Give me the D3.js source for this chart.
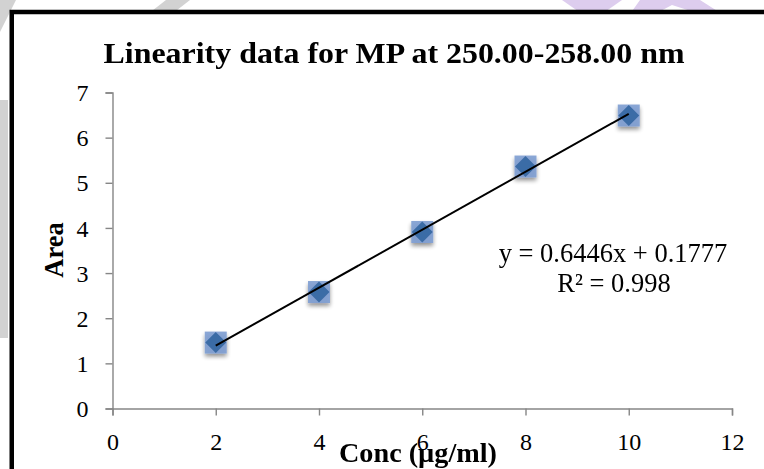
<!DOCTYPE html>
<html><head><meta charset="utf-8">
<script src="https://cdn.jsdelivr.net/npm/d3@7"></script>
<style>html,body{margin:0;padding:0;background:#fff;overflow:hidden}</style>
</head><body>
<svg id="c" width="764" height="469"></svg>
<script>
const concs = [2, 4, 6, 8, 10];
const areas = [1.46, 2.58, 3.91, 5.36, 6.49];
const xTicks = [0, 2, 4, 6, 8, 10, 12];
const yTicks = [0, 1, 2, 3, 4, 5, 6, 7];
const title = "Linearity data for MP at 250.00-258.00 nm";
const xLabel = "Conc (µg/ml)";
const yLabel = "Area";
const eqLine1 = "y = 0.6446x + 0.1777";
const eqLine2 = "R² = 0.998";

const svg = d3.select("#c");
const serif = "'Liberation Serif','Times New Roman',serif";

// faint watermark shapes outside the chart frame
const wm = svg.append("g");
wm.append("polygon").attr("points","0,0 16,0 0,32").attr("fill","#d2d2d2");
wm.append("polygon").attr("points","148,14 166,0 190,0 172,14").attr("fill","#d2d2d2");
wm.append("rect").attr("x",0).attr("y",100).attr("width",8).attr("height",238).attr("fill","#d2d2d2");
wm.append("polygon").attr("points","562,0 622,0 602,14 582,14").attr("fill","#ddcdee");
wm.append("polygon").attr("points","640,0 700,0 722,14 700,14 672,5 655,14 630,14").attr("fill","#ddcdee");

// frame
svg.append("rect").attr("x",11.75).attr("y",12).attr("width",800).attr("height",500)
  .attr("fill","#fff").attr("stroke","#000").attr("stroke-width",4.5);

const x = d3.scaleLinear().domain([0,12]).range([112.5,732]);
const y = d3.scaleLinear().domain([0,7]).range([408.5,92.5]);

const defs = svg.append("defs");
const f = defs.append("filter").attr("id","sh").attr("x","-50%").attr("y","-50%").attr("width","200%").attr("height","200%");
f.append("feGaussianBlur").attr("in","SourceAlpha").attr("stdDeviation",2);
f.append("feOffset").attr("dx",0).attr("dy",3).attr("result","b");
f.append("feComponentTransfer").append("feFuncA").attr("type","linear").attr("slope",0.45);
const m = f.append("feMerge"); m.append("feMergeNode"); m.append("feMergeNode").attr("in","SourceGraphic");

// axes
const xa = svg.append("g").attr("transform",`translate(0,${y(0)})`)
  .call(d3.axisBottom(x).tickValues(xTicks).tickSize(7).tickSizeOuter(7).tickFormat(d3.format("d")));
const ya = svg.append("g").attr("transform",`translate(${x(0)},0)`)
  .call(d3.axisLeft(y).tickValues(yTicks).tickSize(7).tickSizeOuter(7).tickFormat(d3.format("d")));
[xa,ya].forEach(a=>{
  a.selectAll("path,line").attr("stroke","#868686").attr("stroke-width",1.4);
  a.selectAll("text").attr("fill","#000").style("font-family",serif).style("font-size","24px");
});
xa.selectAll("text").attr("dy",0).attr("y",41);
ya.selectAll("text").attr("x",-24).attr("dy","0.34em");

// points
const pts = svg.append("g").attr("filter","url(#sh)");
concs.forEach((c,i)=>{
  const g = pts.append("g").attr("transform",`translate(${x(c)},${y(areas[i])})`);
  g.append("rect").attr("x",-11).attr("y",-11).attr("width",22).attr("height",22)
    .attr("fill","#7e9dd1").attr("opacity",0.9);
  g.append("path").attr("d","M0,-10.5L10.5,0L0,10.5L-10.5,0Z").attr("fill","#3b6ca6");
});

// trendline (least squares)
const mx = d3.mean(concs), my = d3.mean(areas);
const slope = d3.sum(concs.map((c,i)=>(c-mx)*(areas[i]-my))) / d3.sum(concs.map(c=>(c-mx)**2));
const icpt = my - slope*mx;
const x0 = d3.min(concs), x1 = d3.max(concs);
svg.append("line").attr("x1",x(x0)).attr("y1",y(slope*x0+icpt)).attr("x2",x(x1)).attr("y2",y(slope*x1+icpt))
  .attr("stroke","#000").attr("stroke-width",2);

// texts
svg.append("text").attr("x",394).attr("y",63).attr("text-anchor","middle")
  .style("font-family",serif).style("font-size","29px").style("font-weight","bold")
  .attr("textLength",581).attr("lengthAdjust","spacingAndGlyphs").text(title);
svg.append("text").attr("transform","translate(63,250) rotate(-90)").attr("text-anchor","middle")
  .style("font-family",serif).style("font-size","26.5px").style("font-weight","bold").text(yLabel);
svg.append("text").attr("x",418).attr("y",462).attr("text-anchor","middle")
  .style("font-family",serif).style("font-size","26.5px").style("font-weight","bold")
  .attr("textLength",158).attr("lengthAdjust","spacingAndGlyphs").text(xLabel);
svg.append("text").attr("x",613).attr("y",262).attr("text-anchor","middle")
  .style("font-family",serif).style("font-size","26.5px").text(eqLine1);
svg.append("text").attr("x",614).attr("y",292).attr("text-anchor","middle")
  .style("font-family",serif).style("font-size","26.5px").text(eqLine2);
</script>
</body></html>
